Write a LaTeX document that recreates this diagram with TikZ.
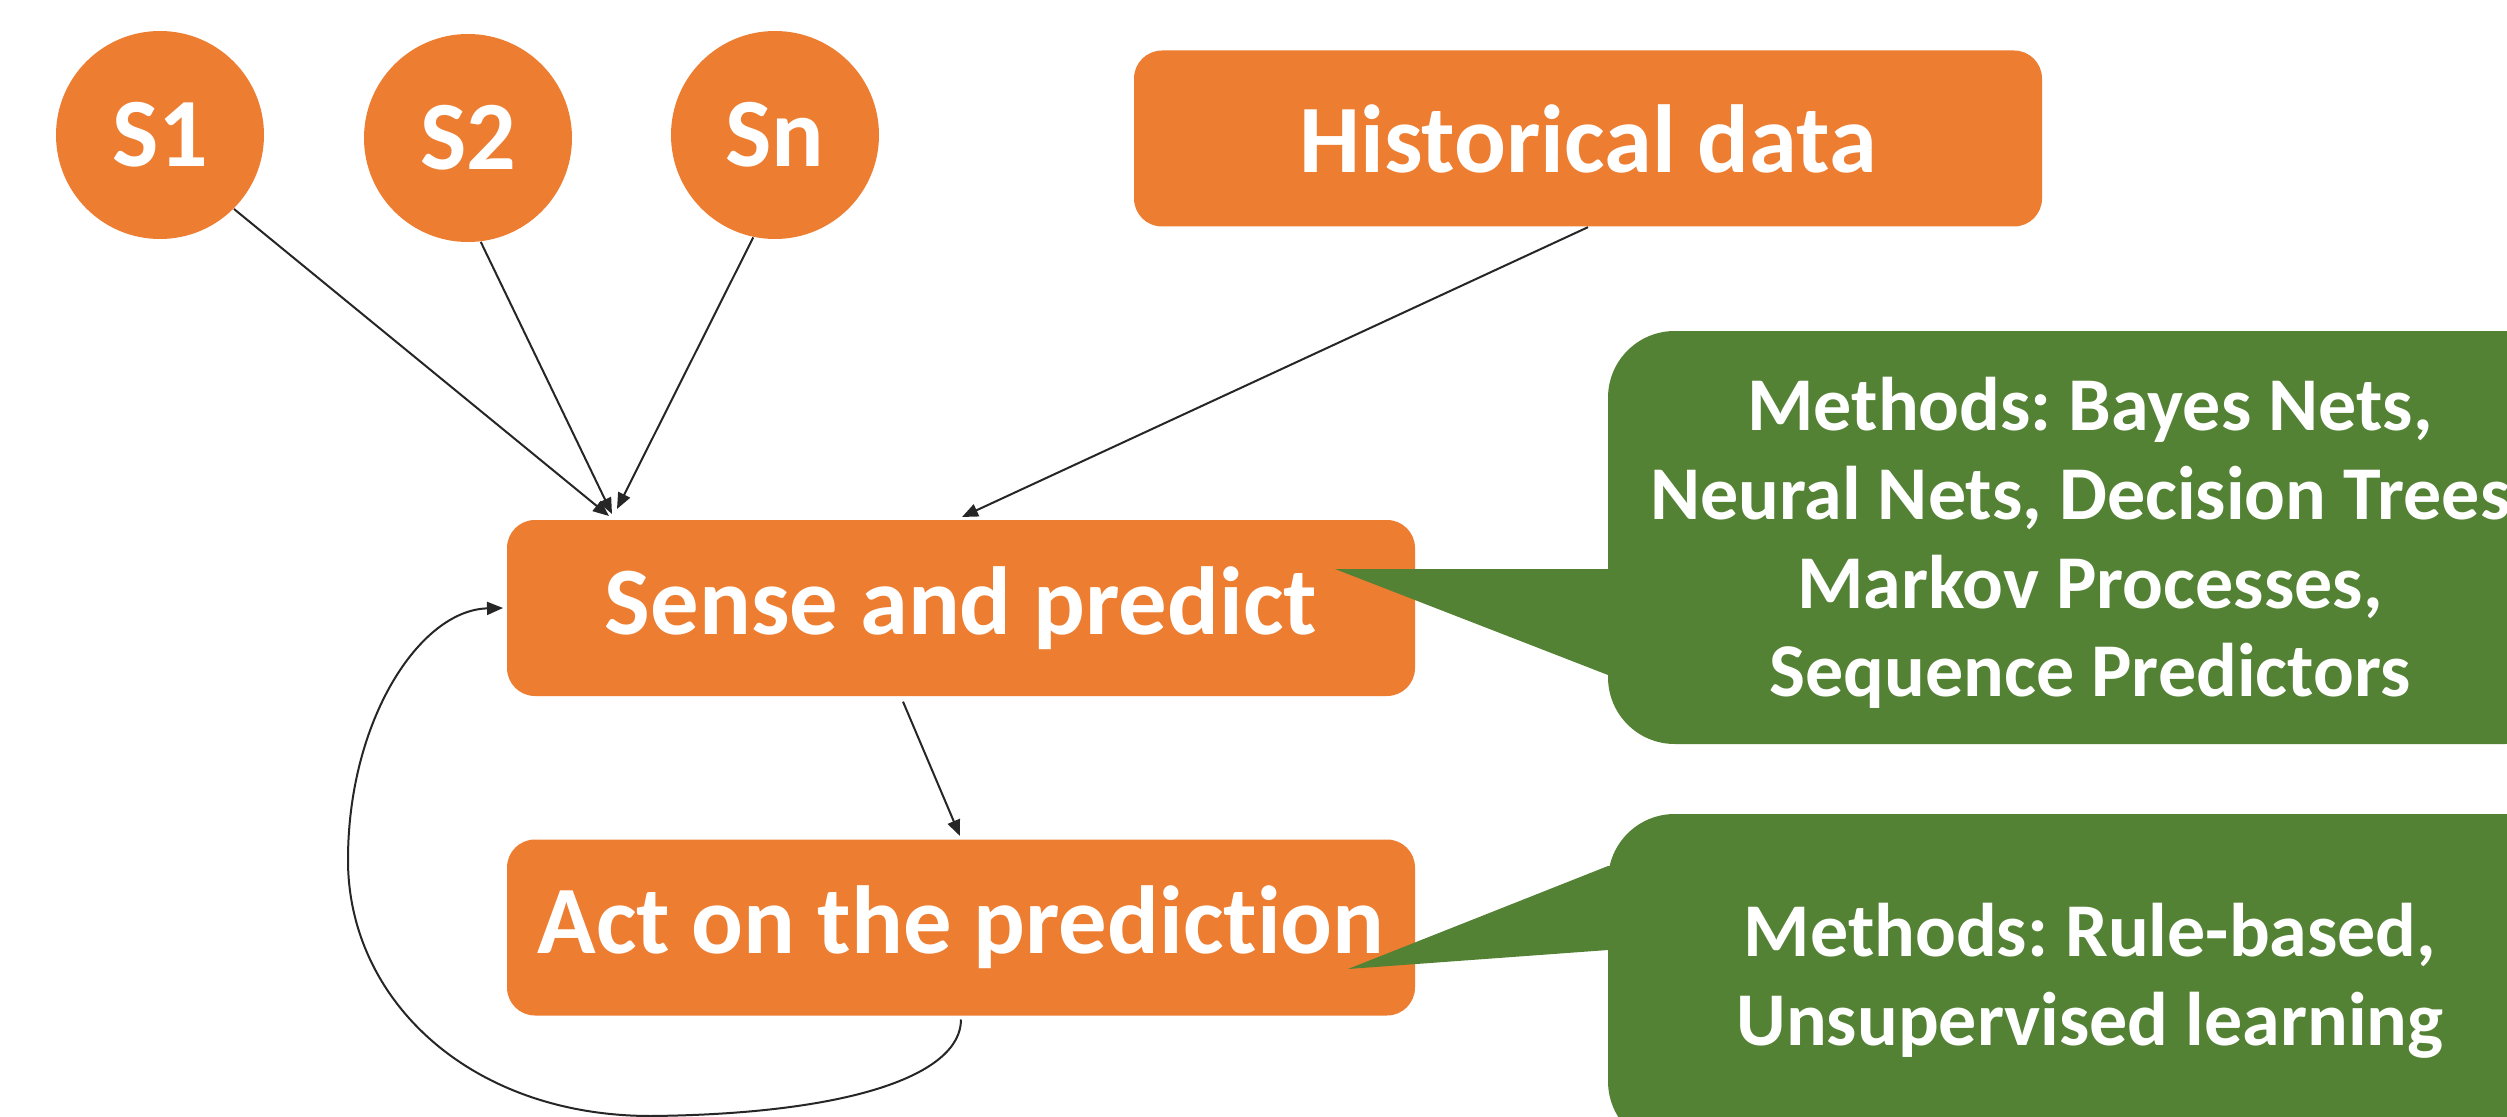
\documentclass[tikz,border=0pt]{standalone}
\usepackage{fontspec}
\setmainfont[Ligatures={NoCommon}]{Carlito}
\frenchspacing
\usetikzlibrary{arrows.meta}
\definecolor{orng}{HTML}{ED7D31}
\definecolor{grn}{HTML}{548235}
\definecolor{lnc}{HTML}{262626}
\begin{document}
\begin{tikzpicture}[x=0.3pt,y=-0.3pt,
  obox/.style={fill=orng,rounded corners=8.4pt,minimum width=272.4pt,minimum height=52.8pt,inner sep=0pt,text=white,font=\fontsize{29pt}{34pt}\selectfont\bfseries},
  ocirc/.style={circle,fill=orng,minimum size=62.4pt,inner sep=0pt,text=white,font=\fontsize{29.4pt}{34pt}\selectfont\bfseries},
  gbox/.style={fill=grn,rounded corners=20pt,minimum width=289.2pt,inner sep=0pt,text=white,align=center,font=\fontsize{22.8pt}{26.6pt}\selectfont\bfseries},
  conn/.style={draw=lnc,line width=0.6pt,-{Triangle[length=4.8pt,width=3.9pt]}}]
\clip (0,0) rectangle (2507,1117);
\fill[white] (0,0) rectangle (2507,1117);
% orange nodes
\node[ocirc] (s1) at (160,135) {S1};
\node[ocirc] (s2) at (468,138) {S2};
\node[ocirc] (sn) at (775,135) {Sn};
\node[obox] (hist) at (1588,138.5) {Historical data};
\node[obox] (sense) at (961,608) {Sense and predict};
\node[obox] (act) at (961,927.5) {Act on the prediction};
% green callouts
\fill[grn] (1335,569) -- (1640,569) -- (1640,675) -- (1608,675) -- cycle;
\node[gbox,minimum height=123.9pt] (m1) at (2090,537.5) {};
\node[text=white,align=center,font=\fontsize{22.8pt}{26.6pt}\selectfont\bfseries] (m1t) at (2090,543) {Methods: Bayes Nets,\\Neural Nets, Decision Trees,\\Markov Processes,\\Sequence Predictors};
\fill[grn] (1348,969) -- (1608,866) -- (1660,866) -- (1660,950) -- (1608,950) -- cycle;
\node[gbox,minimum height=100.2pt] (m2) at (2090,981) {Methods: Rule-based,\\Unsupervised learning};
% connectors
\coordinate (in1) at (609,516);
\coordinate (in2) at (612,514);
\coordinate (in3) at (617,509);
\coordinate (in4) at (962,517);
\coordinate (in5) at (960,836);
\draw[conn] (s1.south east) -- (in1);
\draw[conn] (s2.-83) -- (in2);
\draw[conn] (sn.-102) -- (in3);
\draw[conn] (hist.south) -- (in4);
\draw[conn] ([xshift=-17.4pt,yshift=-1.5pt]sense.south) -- (in5);
\draw[conn] ([yshift=-1pt]act.south) .. controls (961,1075) and (850,1114) .. (651,1116)
  .. controls (470,1116) and (348,1000) .. (348,860)
  .. controls (348,720) and (420,610) .. ([xshift=-1pt]sense.west);
\end{tikzpicture}
\end{document}
